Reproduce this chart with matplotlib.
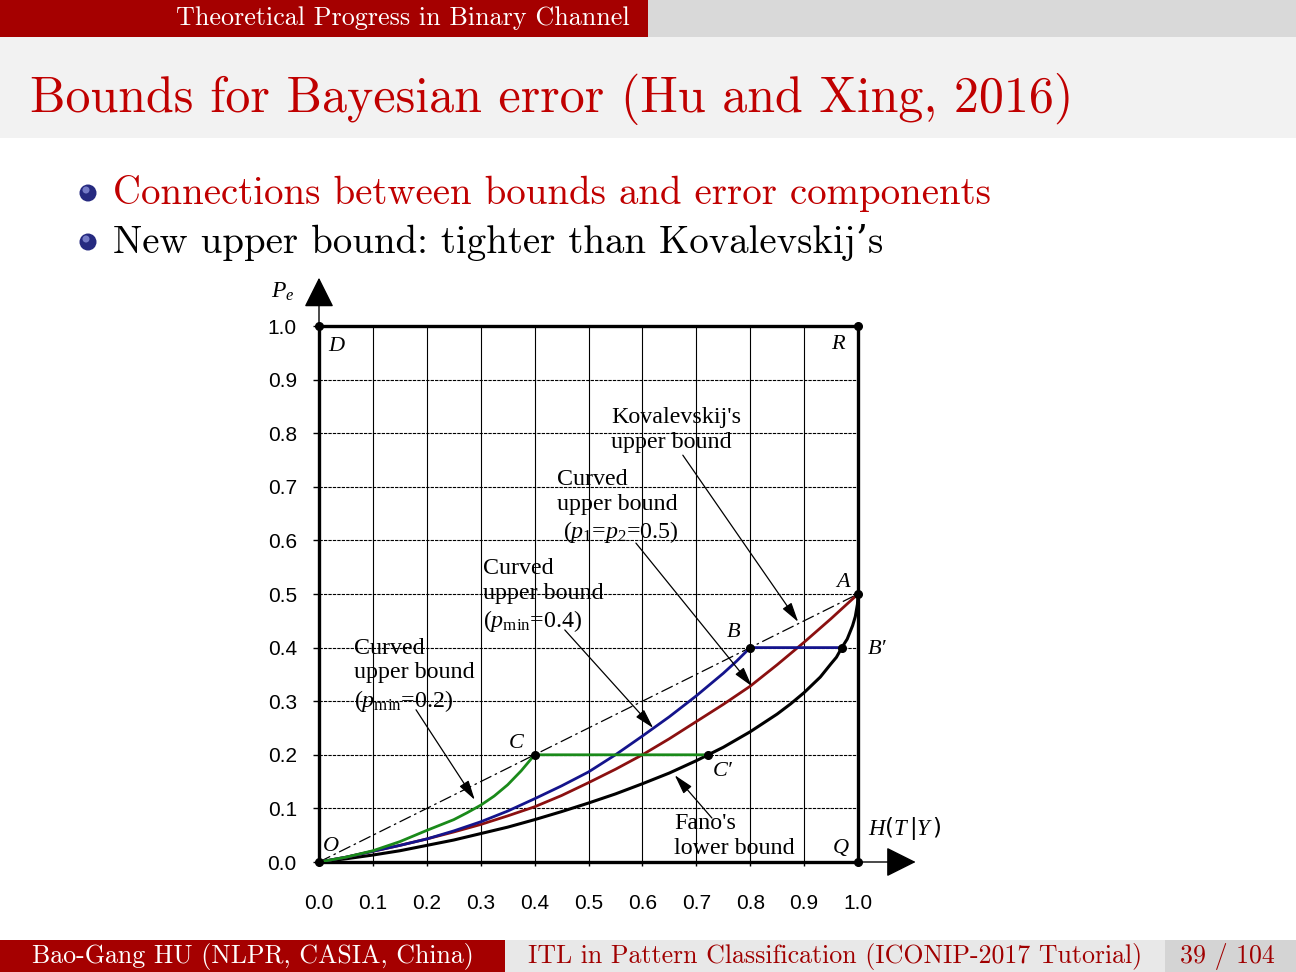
import matplotlib
matplotlib.use("Agg")
import matplotlib.pyplot as plt
from matplotlib.patches import Rectangle, Circle

plt.rcParams["mathtext.fontset"] = "custom"
plt.rcParams["mathtext.rm"] = "Liberation Serif"
plt.rcParams["mathtext.it"] = "Liberation Serif:italic"

# --- chart data ---
# Fano's lower bound (black)
fano_h = [0.0, 0.05, 0.1, 0.15, 0.2, 0.25, 0.3, 0.35, 0.4, 0.45, 0.5, 0.55,
          0.6, 0.65, 0.7, 0.75, 0.8, 0.85, 0.875, 0.9, 0.93, 0.95, 0.96, 0.97,
          0.98, 0.99, 0.995, 0.999, 1.0]
fano_pe = [0.0, 0.006, 0.013, 0.021, 0.031, 0.041, 0.053, 0.065, 0.079, 0.094,
           0.110, 0.127, 0.146, 0.166, 0.189, 0.214, 0.243, 0.276, 0.295, 0.316,
           0.345, 0.370, 0.382, 0.400, 0.416, 0.441, 0.458, 0.481, 0.5]
# curved upper bound p1=p2=0.5 (dark red)
equal_h = [0.0, 0.05, 0.1, 0.15, 0.2, 0.25, 0.3, 0.35, 0.4, 0.45, 0.5, 0.55,
           0.6, 0.65, 0.7, 0.75, 0.8, 0.85, 0.9, 0.95, 1.0]
equal_pe = [0.0, 0.009, 0.02, 0.031, 0.043, 0.056, 0.07, 0.086, 0.103, 0.124,
            0.148, 0.173, 0.2, 0.23, 0.262, 0.294, 0.328, 0.368, 0.41, 0.454, 0.5]
# curved upper bound pmin=0.4 (blue), flat part B -> B'
pmin04_h = [0.0, 0.05, 0.1, 0.15, 0.2, 0.25, 0.3, 0.35, 0.4, 0.45, 0.5, 0.55,
            0.6, 0.65, 0.7, 0.75, 0.775, 0.8, 0.971]
pmin04_pe = [0.0, 0.009, 0.02, 0.031, 0.043, 0.058, 0.075, 0.095, 0.118, 0.142,
             0.168, 0.2, 0.235, 0.271, 0.31, 0.352, 0.375, 0.4, 0.4]
# curved upper bound pmin=0.2 (green), flat part C -> C'
pmin02_h = [0.0, 0.05, 0.1, 0.15, 0.2, 0.25, 0.275, 0.3, 0.325, 0.35, 0.375,
            0.4, 0.722]
pmin02_pe = [0.0, 0.009, 0.021, 0.038, 0.059, 0.079, 0.092, 0.106, 0.123, 0.144,
             0.170, 0.2, 0.2]
# Kovalevskij's upper bound (dashed)
kov_h = [0.0, 1.0]
kov_pe = [0.0, 0.5]

# marked points
pt_names = ["O", "D", "R", "A", "B", "B\u2032", "C", "C\u2032", "Q"]
pt_h = [0.0, 0.0, 1.0, 1.0, 0.8, 0.971, 0.4, 0.722, 1.0]
pt_pe = [0.0, 1.0, 1.0, 0.5, 0.4, 0.4, 0.2, 0.2, 0.0]

ticks = [0.0, 0.1, 0.2, 0.3, 0.4, 0.5, 0.6, 0.7, 0.8, 0.9, 1.0]

fig = plt.figure(figsize=(12.96, 9.72), dpi=100)

# --- slide decoration (pixel coordinates) ---
bg = fig.add_axes([0, 0, 1, 1], zorder=0)
bg.set_xlim(0, 1296)
bg.set_ylim(972, 0)
bg.axis("off")

slide_font = ["cmr10", "DejaVu Serif"]
red = "#a50000"

bg.add_patch(Rectangle((0, 0), 1296, 37, color="#d9d9d9", lw=0))
bg.add_patch(Rectangle((0, 0), 648, 37, color=red, lw=0))
bg.add_patch(Rectangle((0, 37), 1296, 101, color="#f2f2f2", lw=0))
bg.text(630, 25, "Theoretical Progress in Binary Channel", color="white",
        fontsize=18.8, family=slide_font, ha="right", va="baseline")
bg.text(30, 112, "Bounds for Bayesian error (Hu and Xing, 2016)", color="#c00000",
        fontsize=36, family=slide_font, ha="left", va="baseline")

for yb, txt, col in [(193, "Connections between bounds and error components", "#c00000"),
                     (242, "New upper bound: tighter than Kovalevskij\u2019s", "black")]:
    bg.add_patch(Circle((88, yb), 8.5, color="#262a80", lw=0))
    bg.add_patch(Circle((86, yb - 3), 3.5, color="#8a90d8", lw=0, alpha=0.8))
    bg.text(113, yb + 11, txt, color=col, fontsize=28, family=slide_font,
            ha="left", va="baseline")

bg.add_patch(Rectangle((0, 940), 505, 32, color=red, lw=0))
bg.add_patch(Rectangle((505, 940), 660, 32, color="#e8e8e8", lw=0))
bg.add_patch(Rectangle((1165, 940), 131, 32, color="#d4d4d4", lw=0))
bg.text(253, 963, "Bao-Gang HU (NLPR, CASIA, China)", color="white",
        fontsize=18.6, family=slide_font, ha="center", va="baseline")
bg.text(835, 963, "ITL in Pattern Classification (ICONIP-2017 Tutorial)",
        color="#a00000", fontsize=18.6, family=slide_font, ha="center", va="baseline")
bg.text(1275, 963, "39 / 104", color="#a00000", fontsize=18.6, family=slide_font,
        ha="right", va="baseline")

# --- the chart ---
ax = fig.add_axes([319 / 1296, 110 / 972, 539 / 1296, 536 / 972], zorder=1)
ax.set_xlim(0, 1)
ax.set_ylim(0, 1)
ax.set_xticks(ticks)
ax.set_yticks(ticks)
ax.set_xticklabels([f"{t:.1f}" for t in ticks])
ax.set_yticklabels([f"{t:.1f}" for t in ticks])
ax.tick_params(axis="x", direction="out", length=3, width=1, pad=20,
               labelsize=15)
ax.tick_params(axis="y", direction="out", length=4, width=1, pad=12,
               labelsize=15)
for lab in ax.get_xticklabels() + ax.get_yticklabels():
    lab.set_family("Liberation Sans")
for s in ax.spines.values():
    s.set_linewidth(2.4)

for t in ticks[1:-1]:
    ax.axvline(t, color="black", lw=0.8, zorder=1)
    ax.axhline(t, color="black", lw=0.8, ls=(0, (3, 1)), zorder=1)

ax.plot(kov_h, kov_pe, color="black", lw=0.9, ls=(0, (10, 3, 2, 3)), zorder=3)
ax.plot(fano_h, fano_pe, color="black", lw=2.2, zorder=4)
ax.plot(equal_h, equal_pe, color="#8b1010", lw=2.0, zorder=4)
ax.plot(pmin04_h, pmin04_pe, color="#14148c", lw=2.0, zorder=4)
ax.plot(pmin02_h, pmin02_pe, color="#1a8a1a", lw=2.0, zorder=4)
ax.plot(pt_h, pt_pe, "o", color="black", ms=5.5, zorder=6, clip_on=False)

lab_pos = {"O": (0.022, 0.028), "D": (0.033, 0.961), "R": (0.963, 0.966),
           "A": (0.972, 0.522), "B": (0.770, 0.429), "B\u2032": (1.035, 0.397),
           "C": (0.365, 0.222), "C\u2032": (0.748, 0.168), "Q": (0.968, 0.026)}
for name in pt_names:
    x, y = lab_pos[name]
    ax.text(x, y, name, fontsize=16, style="italic",
            family=["Liberation Serif", "DejaVu Serif"],
            ha="center", va="center", zorder=7, clip_on=False)

# axis arrows
arrow = dict(arrowstyle="-|>,head_length=0.9,head_width=0.45", color="black",
             lw=1.0, shrinkA=0, shrinkB=0, mutation_scale=21)
ax.annotate("", xy=(0, 1.09), xytext=(0, 1.0), arrowprops=arrow,
            annotation_clip=False)
ax.annotate("", xy=(1.107, 0), xytext=(1.0, 0), arrowprops=arrow,
            annotation_clip=False)
ax.text(-0.068, 1.065, r"$P_e$", fontsize=17, ha="center", va="center")
ax.text(1.018, 0.062, r"$H$($T\,$|$Y\,$)", fontsize=16.5, ha="left", va="center")

serif = ["Liberation Serif", "DejaVu Serif"]
notes = [
    ("Kovalevskij's\nupper bound", (0.542, 0.848), (0.675, 0.759), (0.889, 0.448)),
    ("Curved\nupper bound\n ($p_1$=$p_2$=0.5)", (0.441, 0.733), (0.588, 0.595), (0.803, 0.328)),
    ("Curved\nupper bound\n($p_{\\mathrm{min}}$=0.4)", (0.304, 0.567), (0.456, 0.433), (0.620, 0.250)),
    ("Curved\nupper bound\n($p_{\\mathrm{min}}$=0.2)", (0.065, 0.418), (0.180, 0.284), (0.289, 0.116)),
    ("Fano's\nlower bound", (0.659, 0.091), (0.729, 0.082), (0.660, 0.162)),
]
tip = dict(arrowstyle="-|>,head_length=0.8,head_width=0.22", color="black",
           lw=0.9, shrinkA=0, shrinkB=0, mutation_scale=15)
for txt, tpos, start, end in notes:
    ax.text(tpos[0], tpos[1], txt, fontsize=17.3, family=serif, ha="left", va="top",
            linespacing=1.22, zorder=5)
    ax.annotate("", xy=end, xytext=start, arrowprops=tip, zorder=5)

fig.savefig("out.png", dpi=100)
